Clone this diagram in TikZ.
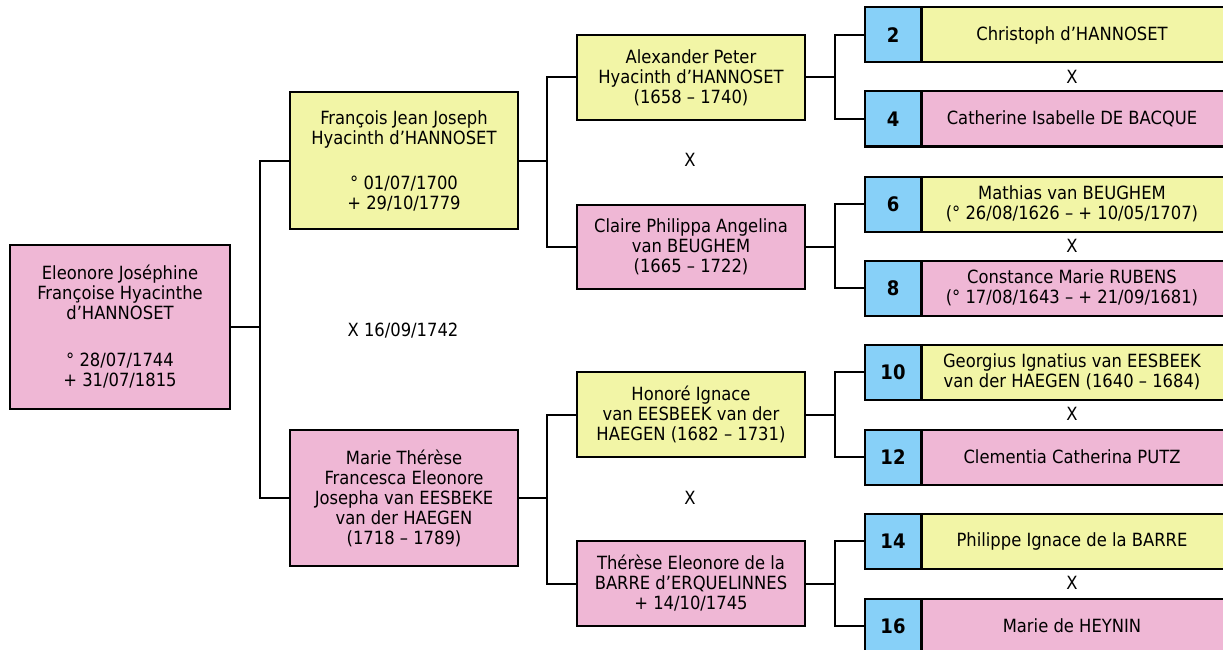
\documentclass[tikz,border=0pt]{standalone}
\usepackage{fontspec}
\setmainfont{DejaVu Sans Condensed}[BoldFont={DejaVu Sans Condensed Bold}]
\definecolor{pinkbox}{HTML}{EFB7D5}
\definecolor{yellowbox}{HTML}{F2F5A6}
\definecolor{bluebox}{HTML}{87D0F8}
\newcommand\txtf{\fontsize{18.2}{20}\selectfont}
\newcommand\numf{\fontsize{20}{22}\selectfont\bfseries}
\begin{document}
\begin{tikzpicture}[x=1pt,y=-1pt,
  box/.style={draw=black, line width=2pt, inner sep=0pt, align=center, font=\txtf},
  pbox/.style={box, fill=pinkbox},
  ybox/.style={box, fill=yellowbox},
  numbox/.style={draw=black, line width=2pt, fill=bluebox, minimum width=56pt, minimum height=55pt, inner sep=0pt, font=\numf},
  namebox/.style={draw=black, line width=2pt, minimum width=320pt, minimum height=55pt, anchor=west, inner sep=0pt},
  nametext/.style={font=\txtf, align=center, xshift=-10pt},
  conn/.style={line width=2pt},
  marrtxt/.style={font=\txtf}]
\clip (0,0) rectangle (1223,650);
\useasboundingbox (0,0) rectangle (1223,650);

% generation 1
\node[pbox, minimum width=220pt, minimum height=164pt] (root) at (120,327)
  {Eleonore Joséphine\\Françoise Hyacinthe\\d’HANNOSET\\[27pt]° 28/07/1744\\+ 31/07/1815};

% generation 2
\node[ybox, minimum width=228pt, minimum height=137pt] (F) at (404,160.5)
  {François Jean Joseph\\Hyacinth d’HANNOSET\\[25pt]° 01/07/1700\\+ 29/10/1779};
\node[pbox, minimum width=228pt, minimum height=136pt] (M) at (404,498)
  {Marie Thérèse\\Francesca Eleonore\\Josepha van EESBEKE\\van der HAEGEN\\(1718 – 1789)};

% generation 3
\node[ybox, minimum width=228pt, minimum height=85pt] (A) at (691,77.5)
  {Alexander Peter\\Hyacinth d’HANNOSET\\(1658 – 1740)};
\node[pbox, minimum width=228pt, minimum height=84pt] (C) at (691,246.5)
  {Claire Philippa Angelina\\van BEUGHEM\\(1665 – 1722)};
\node[ybox, minimum width=228pt, minimum height=85pt] (H) at (691,414.5)
  {Honoré Ignace\\van EESBEEK van der\\HAEGEN (1682 – 1731)};
\node[pbox, minimum width=228pt, minimum height=85pt] (T) at (691,583.5)
  {Thérèse Eleonore de la\\BARRE d’ERQUELINNES\\+ 14/10/1745};

% generation 4
\foreach \num/\yy/\col/\txt in {
  2/35/yellowbox/{Christoph d’HANNOSET},
  4/119/pinkbox/{Catherine Isabelle DE BACQUE},
  6/204/yellowbox/{Mathias van BEUGHEM\\(° 26/08/1626 – + 10/05/1707)},
  8/288/pinkbox/{Constance Marie RUBENS\\(° 17/08/1643 – + 21/09/1681)},
  10/372/yellowbox/{Georgius Ignatius van EESBEEK\\van der HAEGEN (1640 – 1684)},
  12/457/pinkbox/{Clementia Catherina PUTZ},
  14/541/yellowbox/{Philippe Ignace de la BARRE},
  16/626/pinkbox/{Marie de HEYNIN}}{
  \node[namebox, fill=\col, label={[nametext]center:\txt}] (m\num) at (921,\yy) {};
  \node[numbox] (n\num) at (893,\yy) {\num};
}

% junction coordinates
\coordinate (j1) at (260,0);
\coordinate (j2) at (547,0);
\coordinate (j3) at (835,0);

% connectors
\draw[conn] (root.east) -- (root.east -| j1);
\draw[conn] (F.west) -- (F.west -| j1) -- (M.west -| j1) -- (M.west);
\draw[conn] (F.east) -- (F.east -| j2);
\draw[conn] (A.west) -- (A.west -| j2) -- (C.west -| j2) -- (C.west);
\draw[conn] (M.east) -- (M.east -| j2);
\draw[conn] (H.west) -- (H.west -| j2) -- (T.west -| j2) -- (T.west);
\draw[conn] (A.east) -- (A.east -| j3);
\draw[conn] (n2.west) -- (n2.west -| j3) -- (n4.west -| j3) -- (n4.west);
\draw[conn] (C.east) -- (C.east -| j3);
\draw[conn] (n6.west) -- (n6.west -| j3) -- (n8.west -| j3) -- (n8.west);
\draw[conn] (H.east) -- (H.east -| j3);
\draw[conn] (n10.west) -- (n10.west -| j3) -- (n12.west -| j3) -- (n12.west);
\draw[conn] (T.east) -- (T.east -| j3);
\draw[conn] (n14.west) -- (n14.west -| j3) -- (n16.west -| j3) -- (n16.west);

% marriage marks
\node[marrtxt] (x0) at (403,331) {X 16/09/1742};
\node[marrtxt] (x1) at (690,160) {X};
\node[marrtxt] (x2) at (690,498) {X};
\node[marrtxt] (x3) at (1072,77) {X};
\node[marrtxt] (x4) at (1072,246) {X};
\node[marrtxt] (x5) at (1072,414) {X};
\node[marrtxt] (x6) at (1072,583) {X};
\end{tikzpicture}
\end{document}
